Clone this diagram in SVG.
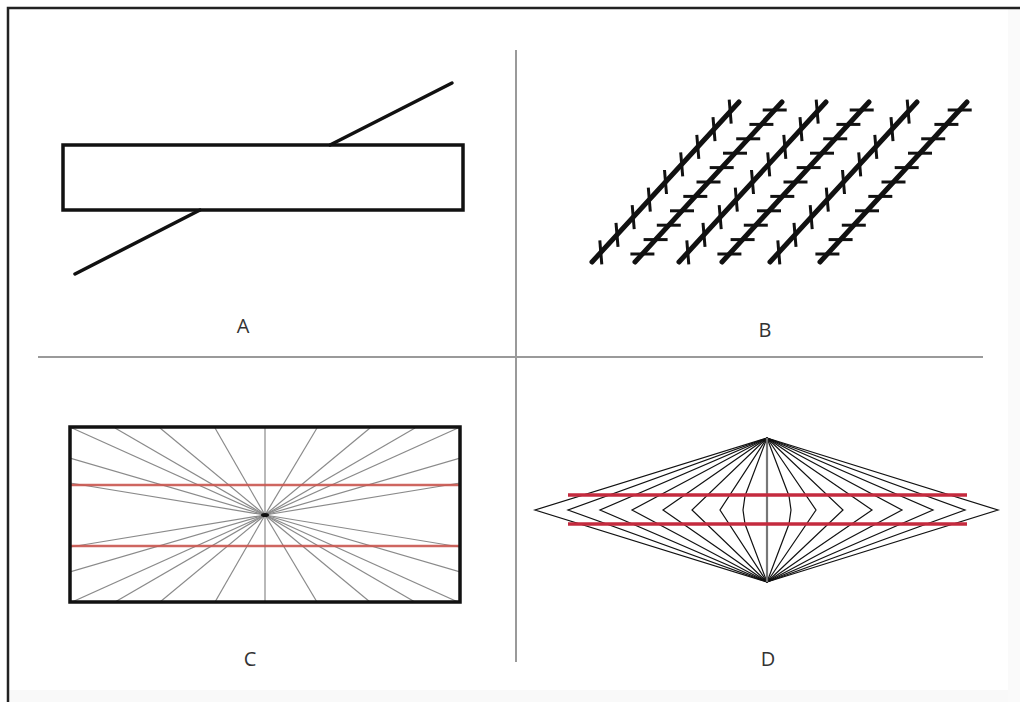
<svg xmlns="http://www.w3.org/2000/svg" xmlns:xlink="http://www.w3.org/1999/xlink" width="1020" height="702" viewBox="0 0 1020 702">
<style>
.frame{stroke:#222;stroke-width:2.5;fill:none}
.div{stroke:#9a9a9a;stroke-width:2}
.thick{stroke:#111;stroke-width:3.5;fill:none;stroke-linecap:round}
.bline{stroke:#111;stroke-width:5;stroke-linecap:round}
.tick{stroke:#111;stroke-width:3;stroke-linecap:butt}
.ray{stroke:#8a8a8a;stroke-width:1.2}
.redC{stroke:#c9564f;stroke-width:2.5;opacity:0.9}
.redD{stroke:#c42a3e;stroke-width:3.5}
.dl{stroke:#111;stroke-width:1.2;fill:none}
.lbl{font-family:"Open Sans","Liberation Sans",sans-serif;font-size:20px;fill:#333;text-anchor:middle}
</style>
<defs>
<g id="lineV">
<line class="bline" x1="0" y1="0" x2="147" y2="-160"/>
<g class="tick">
<line x1="7.8" y1="-21.6" x2="9.8" y2="2.4"/>
<line x1="24" y1="-39.2" x2="26" y2="-15.2"/>
<line x1="40.2" y1="-56.8" x2="42.2" y2="-32.8"/>
<line x1="56.3" y1="-74.4" x2="58.3" y2="-50.4"/>
<line x1="72.5" y1="-92" x2="74.5" y2="-68"/>
<line x1="88.7" y1="-109.6" x2="90.7" y2="-85.6"/>
<line x1="104.8" y1="-127.2" x2="106.8" y2="-103.2"/>
<line x1="121" y1="-144.8" x2="123" y2="-120.8"/>
<line x1="137.2" y1="-162.4" x2="139.2" y2="-138.4"/>
</g>
</g>
<g id="lineH">
<line class="bline" x1="0" y1="0" x2="147" y2="-160"/>
<g class="tick">
<line x1="-4.6" y1="-8" x2="19.4" y2="-8"/>
<line x1="8.6" y1="-22.4" x2="32.6" y2="-22.4"/>
<line x1="21.8" y1="-36.8" x2="45.8" y2="-36.8"/>
<line x1="35" y1="-51.2" x2="59" y2="-51.2"/>
<line x1="48.3" y1="-65.6" x2="72.3" y2="-65.6"/>
<line x1="61.5" y1="-80" x2="85.5" y2="-80"/>
<line x1="74.7" y1="-94.4" x2="98.7" y2="-94.4"/>
<line x1="88" y1="-108.8" x2="112" y2="-108.8"/>
<line x1="101.2" y1="-123.2" x2="125.2" y2="-123.2"/>
<line x1="114.4" y1="-137.6" x2="138.4" y2="-137.6"/>
<line x1="127.7" y1="-152" x2="151.7" y2="-152"/>
</g>
</g>
<clipPath id="clipC"><rect x="70" y="427" width="390" height="175"/></clipPath>
<filter id="glow" x="-5%" y="-50%" width="110%" height="200%"><feGaussianBlur stdDeviation="1"/></filter>
</defs>
<rect width="1020" height="702" fill="#fff"/>
<rect x="8" y="690" width="1012" height="12" fill="#f9f9f9"/>
<rect x="1008" y="8" width="12" height="694" fill="#fafafa"/>
<path class="frame" d="M8,702 V8 H1020"/>

<g id="dividers">
<line class="div" x1="516" y1="50" x2="516" y2="662"/>
<line class="div" x1="38" y1="357" x2="983" y2="357"/>
</g>

<g id="panelA">
<line class="thick" x1="75" y1="274" x2="200" y2="210"/>
<line class="thick" x1="330" y1="145" x2="452" y2="83"/>
<rect class="thick" x="63" y="145" width="400" height="65" stroke-linecap="butt"/>
<text class="lbl" x="243" y="333">A</text>
</g>

<g id="panelB">
<use xlink:href="#lineV" x="592" y="262"/>
<use xlink:href="#lineH" x="635" y="262"/>
<use xlink:href="#lineV" x="679" y="262"/>
<use xlink:href="#lineH" x="722" y="262"/>
<use xlink:href="#lineV" x="770" y="262"/>
<use xlink:href="#lineH" x="820" y="262"/>
<text class="lbl" x="765" y="337">B</text>
</g>

<g id="panelC">
<g clip-path="url(#clipC)" class="ray">
<line x1="265" y1="515" x2="72" y2="428"/>
<line x1="265" y1="515" x2="115" y2="428"/>
<line x1="265" y1="515" x2="160" y2="428"/>
<line x1="265" y1="515" x2="215" y2="428"/>
<line x1="265" y1="515" x2="265" y2="428"/>
<line x1="265" y1="515" x2="317" y2="428"/>
<line x1="265" y1="515" x2="370" y2="428"/>
<line x1="265" y1="515" x2="415" y2="428"/>
<line x1="265" y1="515" x2="458" y2="428"/>
<line x1="265" y1="515" x2="72" y2="602"/>
<line x1="265" y1="515" x2="115" y2="602"/>
<line x1="265" y1="515" x2="160" y2="602"/>
<line x1="265" y1="515" x2="215" y2="602"/>
<line x1="265" y1="515" x2="265" y2="602"/>
<line x1="265" y1="515" x2="317" y2="602"/>
<line x1="265" y1="515" x2="370" y2="602"/>
<line x1="265" y1="515" x2="415" y2="602"/>
<line x1="265" y1="515" x2="458" y2="602"/>
<line x1="265" y1="515" x2="70" y2="458"/>
<line x1="265" y1="515" x2="70" y2="483"/>
<line x1="265" y1="515" x2="70" y2="547"/>
<line x1="265" y1="515" x2="70" y2="572"/>
<line x1="265" y1="515" x2="460" y2="458"/>
<line x1="265" y1="515" x2="460" y2="483"/>
<line x1="265" y1="515" x2="460" y2="547"/>
<line x1="265" y1="515" x2="460" y2="572"/>
</g>
<ellipse cx="265" cy="515" rx="4" ry="2" fill="#111"/>
<line class="redC" x1="70" y1="485" x2="460" y2="485" filter="url(#glow)"/>
<line class="redC" x1="70" y1="485" x2="460" y2="485"/>
<line class="redC" x1="70" y1="546" x2="460" y2="546" filter="url(#glow)"/>
<line class="redC" x1="70" y1="546" x2="460" y2="546"/>
<rect class="thick" x="70" y="427" width="390" height="175" stroke-linecap="butt"/>
<text class="lbl" x="250" y="666">C</text>
</g>

<g id="panelD">
<g class="dl">
<polyline points="767,438 535,510 767,582"/>
<polyline points="767,438 568,510 767,582"/>
<polyline points="767,438 600,510 767,582"/>
<polyline points="767,438 632,510 767,582"/>
<polyline points="767,438 663,510 767,582"/>
<polyline points="767,438 692,510 767,582"/>
<polyline points="767,438 720,510 767,582"/>
<polyline points="767,438 745,496 743,510 745,524 767,582"/>
<polyline points="767,438 789,496 791,510 789,524 767,582"/>
<polyline points="767,438 816,510 767,582"/>
<polyline points="767,438 843,510 767,582"/>
<polyline points="767,438 872,510 767,582"/>
<polyline points="767,438 902,510 767,582"/>
<polyline points="767,438 933,510 767,582"/>
<polyline points="767,438 965,510 767,582"/>
<polyline points="767,438 998,510 767,582"/>
</g>
<line x1="767" y1="438" x2="767" y2="582" stroke="#777" stroke-width="2.2"/>
<line class="redD" x1="568" y1="495" x2="967" y2="495" filter="url(#glow)"/>
<line class="redD" x1="568" y1="495" x2="967" y2="495"/>
<line class="redD" x1="568" y1="524" x2="967" y2="524" filter="url(#glow)"/>
<line class="redD" x1="568" y1="524" x2="967" y2="524"/>
<text class="lbl" x="768" y="666">D</text>
</g>
</svg>
